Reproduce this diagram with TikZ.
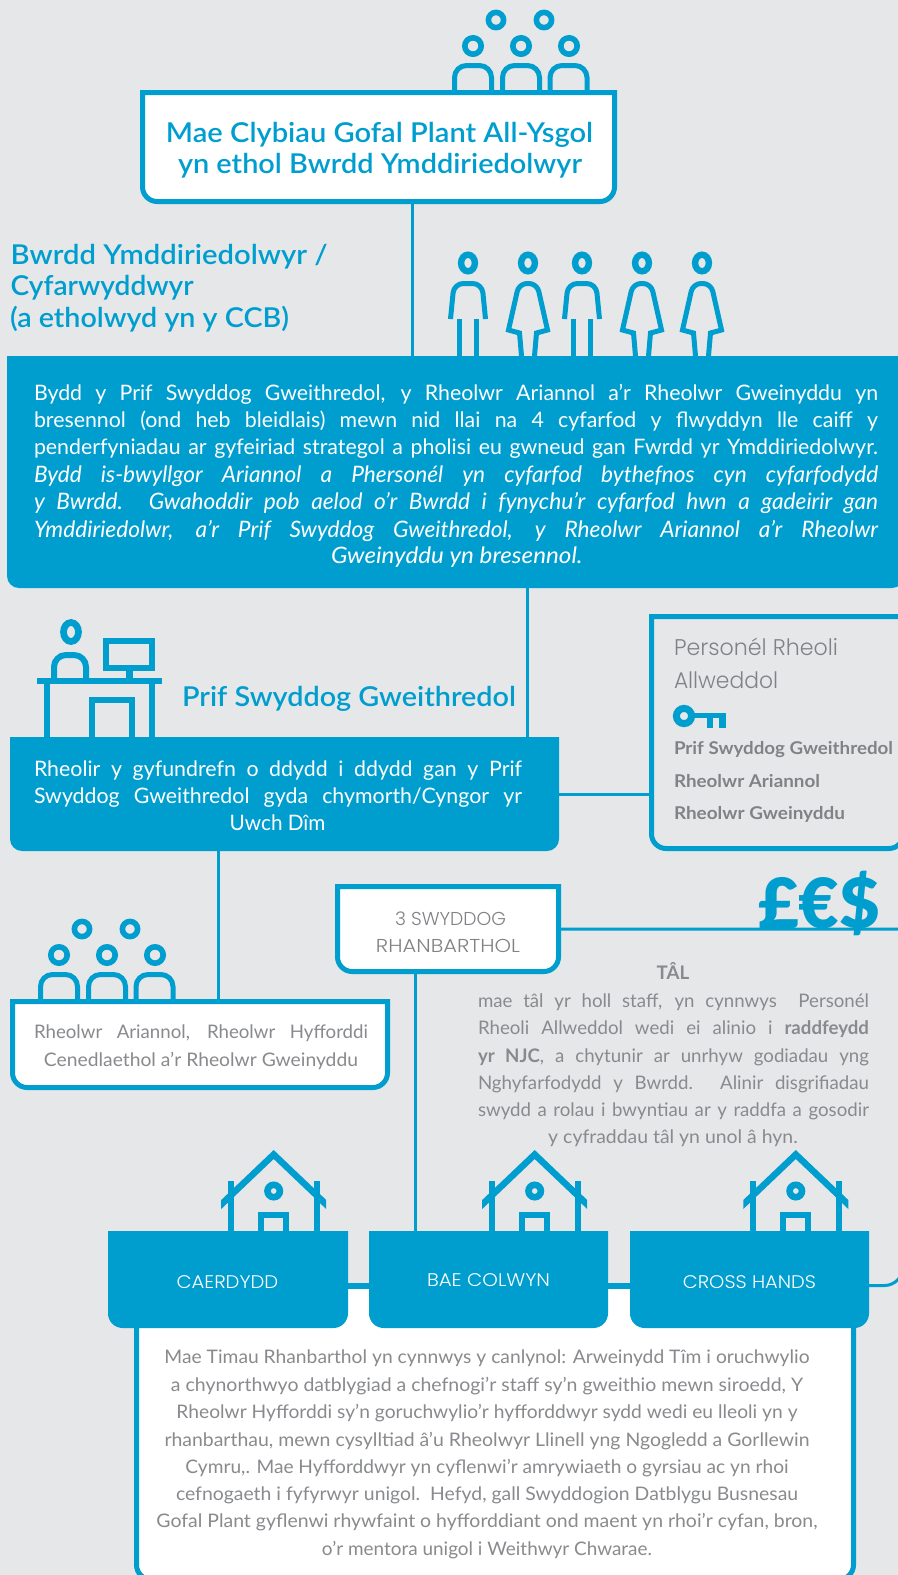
\documentclass[tikz,border=0pt]{standalone}
\usepackage{fontspec}
\usepackage{graphicx}
\usetikzlibrary{fit}
\setmainfont{Lato}
\newfontfamily\hd{Lato Semibold}
\newfontfamily\wide{Poppins Light}
\newfontfamily\blk{Lato Black}
\definecolor{ablue}{HTML}{009ECF}
\definecolor{abg}{HTML}{E6E7E9}
\definecolor{agray}{HTML}{808285}
\definecolor{agraytext}{HTML}{888A8D}
\newdimen\px \px=0.75pt
\newsavebox\mybox
\newcommand\fw[2]{\resizebox{#1\px}{\height}{#2}}
\newcommand\jl[2]{\sbox\mybox{#2}\ifdim\wd\mybox<#1\px \makebox[#1\px][s]{#2}\else\resizebox{#1\px}{\height}{\usebox\mybox}\fi}
\newcommand\areanode[5]{\node[fit={(#2,#3) (#4,#5)},inner sep=0pt,outer sep=0pt] (#1) {};}
\newcommand\outlined[2]{\draw[frame] ([shift={(2.5,2.5)}]#1.north west) [rounded corners=#2] -- ([shift={(2.5,-2.5)}]#1.south west) -- ([shift={(-2.5,-2.5)}]#1.south east) [sharp corners] -- ([shift={(-2.5,2.5)}]#1.north east) -- cycle;}
\newcommand\solid[2]{\fill[ablue] (#1.north west) [rounded corners=#2] -- (#1.south west) -- (#1.south east) [sharp corners] -- (#1.north east) -- cycle;}
\tikzset{
 frame/.style={draw=ablue,line width=5\px,fill=white},
 conn/.style={draw=ablue,line width=3\px},
 icon/.style={draw=ablue,line width=5\px,line join=miter},
 tb/.style={inner sep=0pt,outer sep=0pt,anchor=base},
 tl/.style={inner sep=0pt,outer sep=0pt,anchor=base west},
 blue/.style={text=ablue},
 gr/.style={text=agray},
 grt/.style={text=agraytext},
 wh/.style={text=white},
 crowd/.pic={
  \draw[icon,line width=5.6\px] (23,-70) circle (7.6) (71,-70) circle (7.6);
  \draw[icon,line width=5.6\px] (0,-44) circle (8.2) (48,-44) circle (8.2) (96,-44) circle (8.2);
  \foreach \c in {0,48,95.5}{
   \draw[icon] (\c-18.5,0) [rounded corners=9pt] -- (\c-18.5,-24.5) -- (\c+18.5,-24.5) [sharp corners] -- (\c+18.5,0);
  }
 },
 man/.pic={
  \draw[icon,line width=6.4\px] (0,-93) ellipse (6.9 and 8.3);
  \draw[icon] (-17.5,-37) [rounded corners=7pt] -- (-14,-72.5) -- (14,-72.5) [sharp corners] -- (17.5,-37);
  \draw[icon,line width=5.5\px] (-8.5,-37) -- (-8.5,0) (8.5,-37) -- (8.5,0);
 },
 woman/.pic={
  \draw[icon,line width=6.4\px] (0,-93) ellipse (6.9 and 8.3);
  \draw[icon] (-6.5,0) -- (-8.5,-23) -- (-19.5,-26) [rounded corners=6pt] -- (-9,-72.5) -- (9,-72.5) [sharp corners] -- (19.5,-26) -- (8.5,-23) -- (6.5,0);
 },
 house/.pic={
  \fill[ablue] (0,-81) -- (52.5,-31) -- (52.5,-22) -- (0,-72) -- (-52.5,-22) -- (-52.5,-31) -- cycle;
  \draw[icon,line width=6\px] (-43,-50) -- (-43,0) (43,-50) -- (43,0);
  \draw[icon,line width=6.6\px] (0,-40) circle (6.2);
  \draw[icon,line width=6\px] (-12.5,0) -- (-12.5,-16.5) -- (12.5,-16.5) -- (12.5,0);
 }
}
\begin{document}
\begin{tikzpicture}[x=0.75pt,y=-0.75pt]
\useasboundingbox (0,0) rectangle (898,1575);
\fill[abg] (0,0) rectangle (898,1575);
\clip (0,0) rectangle (898,1575);

% areas
\areanode{topbox}{140}{90}{617}{204}
\areanode{band}{7}{356}{904}{588}
\areanode{ceo}{10}{737}{559}{851}
\areanode{keybox}{649}{614}{906}{851}
\areanode{regbox}{335}{884}{561}{974}
\areanode{mgr}{10}{999}{390}{1090}
\areanode{cardiff}{108}{1231}{348}{1328}
\areanode{bae}{369}{1231}{608}{1328}
\areanode{cross}{630}{1231}{869}{1328}
\areanode{teams}{134}{1283.5}{856}{1582}
\coordinate (xa) at (412,0);
\coordinate (xb) at (527,0);
\coordinate (xc) at (218.5,0);
\coordinate (xd) at (415,0);

% connectors
\draw[conn] (xa |- topbox.south) -- (xa |- band.north);
\draw[conn] (xb |- band.south) -- (xb |- ceo.north);
\draw[conn] (xc |- ceo.south) -- (xc |- mgr.north);
\draw[conn] (xd |- regbox.south) -- (xd |- bae.north);
\draw[conn] (ceo.east) -- (ceo.east -| keybox.west);
\draw[conn] (regbox.east) -- (903,929) [rounded corners=14pt] -- (903,1285.5) -- ([shift={(0,6)}]cross.east);

% icons
\pic at (473,90) {crowd};
\pic at (59,999) {crowd};
\pic at (468,356) {man};
\pic at (528,356) {woman};
\pic at (582,356) {man};
\pic at (642,356) {woman};
\pic at (702,356) {woman};
% desk
\draw[icon,line width=6.7\px] (71,632) ellipse (7.5 and 9.5);
\draw[icon,line width=6\px] (54,678) [rounded corners=9pt] -- (54,655) -- (86,655) [sharp corners] -- (86,678);
\fill[ablue] (37,678) rectangle (162,684);
\draw[icon,line width=6\px] (47,684) -- (47,737) (151.5,684) -- (151.5,737);
\draw[icon,line width=6\px] (92,737) -- (92,700) -- (132,700) -- (132,737);
\draw[icon,line width=6\px] (106,641) rectangle (152,668);
\fill[ablue] (126,671) rectangle (133,678);
% boxes
\outlined{topbox}{11pt}
\solid{band}{9pt}
\solid{ceo}{9pt}
\draw[frame,fill=none] ([shift={(2.5,2.5)}]keybox.north west) [rounded corners=11pt] -- ([shift={(2.5,-2.5)}]keybox.south west) -- ([shift={(-2.5,-2.5)}]keybox.south east) [sharp corners] -- ([shift={(-2.5,2.5)}]keybox.north east) -- cycle;
\outlined{regbox}{11pt}
\outlined{mgr}{11pt}
\outlined{teams}{11pt}
\draw[draw=ablue,line width=6\px] ([shift={(0,6)}]cardiff.east) -- ([shift={(0,6)}]cardiff.east -| bae.west);
\draw[draw=ablue,line width=6\px] ([shift={(0,6)}]bae.east) -- ([shift={(0,6)}]bae.east -| cross.west);
\solid{cardiff}{11pt}
\solid{bae}{11pt}
\solid{cross}{11pt}
\pic at (273.7,1231) {house};
\pic at (534.7,1231) {house};
\pic at (795.8,1231) {house};
% key
\draw[icon,line width=7\px] (684,716) circle (7.6);
\fill[ablue] (690,712.5) rectangle (726,718);
\fill[ablue] (707,718) rectangle (713,728);
\fill[ablue] (719,718) rectangle (726,728);

% texts
\node[tb,blue,font=\hd\fontsize{20.5pt}{24pt}\selectfont] (t1) at (379.5,142) {\fw{427}{Mae Clybiau Gofal Plant All-Ysgol}};
\node[tb,blue,font=\hd\fontsize{20.5pt}{24pt}\selectfont] (t2) at (380,173) {\fw{404}{yn ethol Bwrdd Ymddiriedolwyr}};
\node[tl,blue,font=\hd\fontsize{20.5pt}{24pt}\selectfont] (b1) at (10.7,264) {\fw{317}{Bwrdd Ymddiriedolwyr /}};
\node[tl,blue,font=\hd\fontsize{20.5pt}{24pt}\selectfont] (b2) at (10.7,295) {\fw{183}{Cyfarwyddwyr}};
\node[tl,blue,font=\hd\fontsize{20.5pt}{24pt}\selectfont] (b3) at (10,327) {\fw{279}{(a etholwyd yn y CCB)}};
\node[tl,blue,font=\hd\fontsize{20.5pt}{24pt}\selectfont] (ct) at (182,706) {\fw{334}{Prif Swyddog Gweithredol}};

\begin{scope}[every node/.append style={wh,font=\fontsize{16pt}{18pt}\selectfont}]
\node[tl] (l1) at (34,400) {\jl{844}{Bydd y Prif Swyddog Gweithredol, y Rheolwr Ariannol a’r Rheolwr Gweinyddu yn}};
\node[tl] (l2) at (34,427) {\jl{844}{bresennol (ond heb bleidlais) mewn nid llai na 4 cyfarfod y flwyddyn lle caiff y}};
\node[tl] (l3) at (34,454) {\jl{844}{penderfyniadau ar gyfeiriad strategol a pholisi eu gwneud gan Fwrdd yr Ymddiriedolwyr.}};
\node[tl] (l7) at (331,563) {\fw{251.5}{\itshape\fontsize{17pt}{18pt}\selectfont Gweinyddu yn bresennol.}};
\node[tl] (l4) at (34,482) {\jl{844}{\itshape\fontsize{17pt}{18pt}\selectfont Bydd is-bwyllgor Ariannol a Phersonél yn cyfarfod bythefnos cyn cyfarfodydd}};
\node[tl] (l5) at (34,509) {\jl{844}{\itshape\fontsize{17pt}{18pt}\selectfont y Bwrdd. Gwahoddir pob aelod o’r Bwrdd i fynychu’r cyfarfod hwn a gadeirir gan}};
\node[tl] (l6) at (34,537) {\jl{844}{\itshape\fontsize{17pt}{18pt}\selectfont Ymddiriedolwr, a’r Prif Swyddog Gweithredol, y Rheolwr Ariannol a’r Rheolwr}};
\node[tl] (c1) at (34,776) {\jl{488}{Rheolir y gyfundrefn o ddydd i ddydd gan y Prif}};
\node[tl] (c2) at (34,803) {\jl{488}{Swyddog Gweithredol gyda chymorth/Cyngor yr}};
\node[tb] (c3) at (277.6,830) {\fw{95.7}{Uwch Dîm}};
\end{scope}

\node[tl,gr,font=\wide\fontsize{17pt}{20pt}\selectfont] (k1) at (674,655) {\fw{164}{Personél Rheoli}};
\node[tl,gr,font=\wide\fontsize{17pt}{20pt}\selectfont] (k2) at (674,688) {\fw{104}{Allweddol}};
\begin{scope}[every node/.append style={gr,font=\bfseries\fontsize{13.2pt}{16pt}\selectfont}]
\node[tl] (k3) at (674,754) {\fw{219}{Prif Swyddog Gweithredol}};
\node[tl] (k4) at (674,787) {\fw{146}{Rheolwr Ariannol}};
\node[tl] (k5) at (674,819) {\fw{171}{Rheolwr Gweinyddu}};
\end{scope}
\node[tl,blue,font=\blk\fontsize{52pt}{54pt}\selectfont] (money) at (758,928) {\fw{122}{£€\$}};

\begin{scope}[every node/.append style={grt,font=\fontsize{14pt}{16pt}\selectfont}]
\node[tb] (m1) at (201,1038) {\jl{334}{Rheolwr Ariannol, Rheolwr Hyfforddi}};
\node[tb] (m2) at (201,1066) {\fw{314}{Cenedlaethol a’r Rheolwr Gweinyddu}};
\node[tb] (p0) at (673,979) {\textbf{TÂL}};
\node[tl] (p1) at (478,1007) {\jl{391}{mae tâl yr holl staff, yn cynnwys\ \ Personél}};
\node[tl] (p2) at (478,1034) {\jl{391}{Rheoli Allweddol wedi ei alinio i \textbf{raddfeydd}}};
\node[tl] (p3) at (478,1062) {\jl{391}{\textbf{yr NJC}, a chytunir ar unrhyw godiadau yng}};
\node[tl] (p4) at (478,1089) {\jl{391}{Nghyfarfodydd y Bwrdd. Alinir disgrifiadau}};
\node[tl] (p5) at (478,1116) {\jl{391}{swydd a rolau i bwyntiau ar y raddfa a gosodir}};
\node[tb] (p6) at (673,1143) {\fw{249.5}{y cyfraddau tâl yn unol â hyn.}};
\node[tb] (s1) at (487,1363) {\fw{645}{Mae Timau Rhanbarthol yn cynnwys y canlynol: Arweinydd Tîm i oruchwylio}};
\node[tb] (s2) at (487,1391) {\fw{632}{a chynorthwyo datblygiad a chefnogi’r staff sy’n gweithio mewn siroedd, Y}};
\node[tb] (s3) at (487,1418) {\fw{621}{Rheolwr Hyfforddi sy’n goruchwylio’r hyfforddwyr sydd wedi eu lleoli yn y}};
\node[tb] (s4) at (487,1446) {\fw{645}{rhanbarthau, mewn cysylltiad â’u Rheolwyr Llinell yng Ngogledd a Gorllewin}};
\node[tb] (s5) at (487,1473) {\fw{603}{Cymru,. Mae Hyfforddwyr yn cyflenwi’r amrywiaeth o gyrsiau ac yn rhoi}};
\node[tb] (s6) at (487,1500) {\fw{622}{cefnogaeth i fyfyrwyr unigol.\ \ Hefyd, gall Swyddogion Datblygu Busnesau}};
\node[tb] (s7) at (487,1527) {\fw{661}{Gofal Plant gyflenwi rhywfaint o hyfforddiant ond maent yn rhoi’r cyfan, bron,}};
\node[tb] (s8) at (487,1555) {\fw{330}{o’r mentora unigol i Weithwyr Chwarae.}};
\end{scope}

\begin{scope}[every node/.append style={gr,font=\wide\fontsize{14pt}{16pt}\selectfont}]
\node[tb] (r1) at (450.5,925) {\fw{111}{3 SWYDDOG}};
\node[tb] (r2) at (448,952) {\fw{144}{RHANBARTHOL}};
\end{scope}
\begin{scope}[every node/.append style={wh,font=\wide\fontsize{13.7pt}{16pt}\selectfont}]
\node[tb] (h1) at (227.4,1288) {\fw{101.7}{CAERDYDD}};
\node[tb] (h2) at (488.5,1286) {\fw{123}{BAE COLWYN}};
\node[tb] (h3) at (749.4,1288) {\fw{133}{CROSS HANDS}};
\end{scope}
\end{tikzpicture}
\end{document}
